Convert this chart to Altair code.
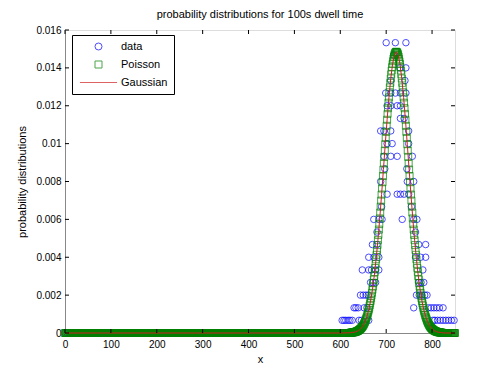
import altair as alt
import pandas as pd

series_names = ["data", "Poisson", "Gaussian"]
series_colors = ["#0000ff", "#008000", "#d02020"]

x_ticks = [0, 100, 200, 300, 400, 500, 600, 700, 800]
y_ticks = [0, 0.002, 0.004, 0.006, 0.008, 0.01, 0.012, 0.014, 0.016]

# measured data (non-zero bins)
data_x = [604, 608, 612, 617, 621, 626, 641, 646, 662, 802, 806, 812, 818, 824, 830, 836, 842, 848,
          630, 634, 639, 652, 658, 760, 792, 798, 804, 810, 816, 824,
          644, 650, 656, 661, 766, 772, 778, 784, 789,
          666, 671, 677, 771, 776, 782,
          648, 662, 668, 677, 684, 780,
          662, 673, 684, 764, 775, 786,
          670, 680, 771, 786,
          680, 764,
          673, 684, 691, 735, 760, 767,
          690, 755,
          702, 724, 731, 739, 749,
          688, 746, 760,
          697, 745,
          695, 710, 724, 757,
          702, 713, 749,
          688, 695, 710, 749,
          731, 739,
          702, 710, 724, 731,
          699, 710, 720, 731, 743,
          710, 741,
          730, 743,
          716,
          700, 720, 743]
data_y = [0.00067] * 18 + [0.00133] * 12 + [0.002] * 9 + [0.00267] * 6 + [0.00333] * 6 + \
         [0.004] * 6 + [0.00467] * 4 + [0.00533] * 2 + [0.006] * 6 + [0.00667] * 2 + \
         [0.00733] * 5 + [0.008] * 3 + [0.00867] * 2 + [0.00933] * 4 + [0.01] * 3 + \
         [0.01067] * 4 + [0.01133] * 2 + [0.012] * 4 + [0.01267] * 5 + [0.01333] * 2 + \
         [0.014] * 2 + [0.01467] * 1 + [0.01533] * 3
# empty bins of the data
data_zero_x = list(range(0, 600, 5))

# Poisson probabilities, x = 622 ... 822
poisson_x = list(range(622, 823))
poisson_y = [
    0.00001, 0.00002, 0.00002, 0.00002, 0.00003, 0.00003, 0.00003, 0.00004, 0.00004, 0.00005,
    0.00005, 0.00006, 0.00007, 0.00008, 0.00009, 0.00010, 0.00011, 0.00013, 0.00014, 0.00016,
    0.00018, 0.00020, 0.00022, 0.00024, 0.00027, 0.00030, 0.00033, 0.00037, 0.00041, 0.00045,
    0.00050, 0.00055, 0.00060, 0.00066, 0.00073, 0.00080, 0.00087, 0.00095, 0.00104, 0.00113,
    0.00123, 0.00133, 0.00145, 0.00157, 0.00169, 0.00183, 0.00197, 0.00212, 0.00228, 0.00245,
    0.00263, 0.00282, 0.00301, 0.00322, 0.00343, 0.00365, 0.00389, 0.00413, 0.00438, 0.00464,
    0.00490, 0.00518, 0.00546, 0.00575, 0.00605, 0.00636, 0.00667, 0.00699, 0.00731, 0.00763,
    0.00796, 0.00829, 0.00863, 0.00896, 0.00930, 0.00963, 0.00997, 0.01030, 0.01062, 0.01094,
    0.01126, 0.01157, 0.01187, 0.01216, 0.01244, 0.01271, 0.01297, 0.01321, 0.01344, 0.01366,
    0.01386, 0.01404, 0.01421, 0.01435, 0.01448, 0.01460, 0.01469, 0.01476, 0.01481, 0.01484,
    0.01485,
    0.01484, 0.01481, 0.01476, 0.01469, 0.01460, 0.01448, 0.01435, 0.01421, 0.01404, 0.01386,
    0.01366, 0.01344, 0.01321, 0.01297, 0.01271, 0.01244, 0.01216, 0.01187, 0.01157, 0.01126,
    0.01094, 0.01062, 0.01030, 0.00997, 0.00963, 0.00930, 0.00896, 0.00863, 0.00829, 0.00796,
    0.00763, 0.00731, 0.00699, 0.00667, 0.00636, 0.00605, 0.00575, 0.00546, 0.00518, 0.00490,
    0.00464, 0.00438, 0.00413, 0.00389, 0.00365, 0.00343, 0.00322, 0.00301, 0.00282, 0.00263,
    0.00245, 0.00228, 0.00212, 0.00197, 0.00183, 0.00169, 0.00157, 0.00145, 0.00133, 0.00123,
    0.00113, 0.00104, 0.00095, 0.00087, 0.00080, 0.00073, 0.00066, 0.00060, 0.00055, 0.00050,
    0.00045, 0.00041, 0.00037, 0.00033, 0.00030, 0.00027, 0.00024, 0.00022, 0.00020, 0.00018,
    0.00016, 0.00014, 0.00013, 0.00011, 0.00010, 0.00009, 0.00008, 0.00007, 0.00006, 0.00005,
    0.00005, 0.00004, 0.00004, 0.00003, 0.00003, 0.00003, 0.00002, 0.00002, 0.00002, 0.00001,
]
poisson_zero_x = list(range(0, 622)) + list(range(823, 851))

# Gaussian fit
gauss_x = [0, 500, 560, 600] + list(range(622, 823, 4)) + [830, 840, 850]
gauss_y = [0, 0, 0, 0,
           0.00001, 0.00003, 0.00004, 0.00007, 0.00011, 0.00018, 0.00027, 0.00041, 0.00060, 0.00087,
           0.00123, 0.00169, 0.00228, 0.00301, 0.00389, 0.00490, 0.00605, 0.00731, 0.00863, 0.00997,
           0.01126, 0.01244, 0.01344, 0.01421, 0.01469, 0.01485, 0.01469, 0.01421, 0.01344, 0.01244,
           0.01126, 0.00997, 0.00863, 0.00731, 0.00605, 0.00490, 0.00389, 0.00301, 0.00228, 0.00169,
           0.00123, 0.00087, 0.00060, 0.00041, 0.00027, 0.00018, 0.00011, 0.00007, 0.00004, 0.00003,
           0.00001,
           0, 0, 0]

df_data = pd.DataFrame({"x": data_zero_x + data_x,
                        "y": [0.0] * len(data_zero_x) + data_y,
                        "series": "data"})
df_pois = pd.DataFrame({"x": poisson_zero_x + poisson_x,
                        "y": [0.0] * len(poisson_zero_x) + poisson_y,
                        "series": "Poisson"})
df_gauss = pd.DataFrame({"x": gauss_x, "y": gauss_y, "series": "Gaussian"})

FONT = "Liberation Sans"
W, H = 390, 303

xscale = alt.Scale(domain=[0, 850], nice=False, zero=False)
yscale = alt.Scale(domain=[0, 0.016], nice=False, zero=False)

xaxis = alt.Axis(values=x_ticks, title="x", tickSize=0, labelPadding=6,
                 titlePadding=4, grid=False, labelFlush=False, labelOverlap=False,
                 titleFontWeight="normal")
yaxis = alt.Axis(values=y_ticks, format="~g", title="probability distributions",
                 tickSize=0, labelPadding=4, titlePadding=8, grid=False,
                 labelFlush=False, labelOverlap=False, titleFontWeight="normal")
xenc = alt.X("x:Q", scale=xscale, axis=xaxis)
yenc = alt.Y("y:Q", scale=yscale, axis=yaxis)

legend = alt.Legend(title=None, orient="none", legendX=7, legendY=5,
                    strokeColor="black", fillColor="white", padding=6,
                    labelFont=FONT, labelFontSize=11, labelColor="black",
                    symbolStrokeWidth=1, symbolSize=49, rowPadding=6,
                    symbolOffset=15, labelOffset=17)
color = alt.Color("series:N", scale=alt.Scale(domain=series_names, range=series_colors), legend=legend)
shape = alt.Shape("series:N",
                  scale=alt.Scale(domain=series_names,
                                  range=["circle", "square", "M-5.3,0H5.3"]),
                  legend=legend)

pts_data = alt.Chart(df_data).mark_point(filled=False, strokeWidth=1, size=42).encode(
    x=xenc, y=yenc, color=color, shape=shape)
pts_pois = alt.Chart(df_pois).mark_point(filled=False, strokeWidth=1, size=49).encode(
    x=xenc, y=yenc, color=color, shape=shape)
line_gauss = alt.Chart(df_gauss).mark_line(strokeWidth=1).encode(
    x=xenc, y=yenc, color=color)

# inward MATLAB-style ticks
xt = pd.DataFrame({"x": x_ticks})
yt = pd.DataFrame({"y": y_ticks})
tick_b = alt.Chart(xt).mark_rule(color="black", strokeWidth=1).encode(
    x=xenc, y=alt.value(H), y2=alt.value(H - 4))
tick_t = alt.Chart(xt).mark_rule(color="black", strokeWidth=1).encode(
    x=xenc, y=alt.value(0), y2=alt.value(4))
tick_l = alt.Chart(yt).mark_rule(color="black", strokeWidth=1).encode(
    y=yenc, x=alt.value(0), x2=alt.value(4))
tick_r = alt.Chart(yt).mark_rule(color="black", strokeWidth=1).encode(
    y=yenc, x=alt.value(W), x2=alt.value(W - 4))

chart = alt.layer(pts_data, pts_pois, line_gauss, tick_b, tick_t, tick_l, tick_r).properties(
    width=W, height=H,
    title=alt.TitleParams("probability distributions for 100s dwell time", font=FONT,
                          fontSize=11, fontWeight="normal", color="black", offset=5, anchor="middle"),
    autosize=alt.AutoSizeParams(type="none"),
    padding={"left": 65, "top": 30, "right": 45, "bottom": 42},
).configure_view(stroke="black", strokeWidth=1).configure_axis(
    labelFont=FONT, titleFont=FONT, labelFontSize=11, titleFontSize=11,
    labelColor="black", titleColor="black", titleFontWeight="normal",
    domainColor="black", domainWidth=1, labelOverlap=False,
).configure(background="white")

chart.save("out.html", embed_options={"renderer": "svg", "actions": False})
